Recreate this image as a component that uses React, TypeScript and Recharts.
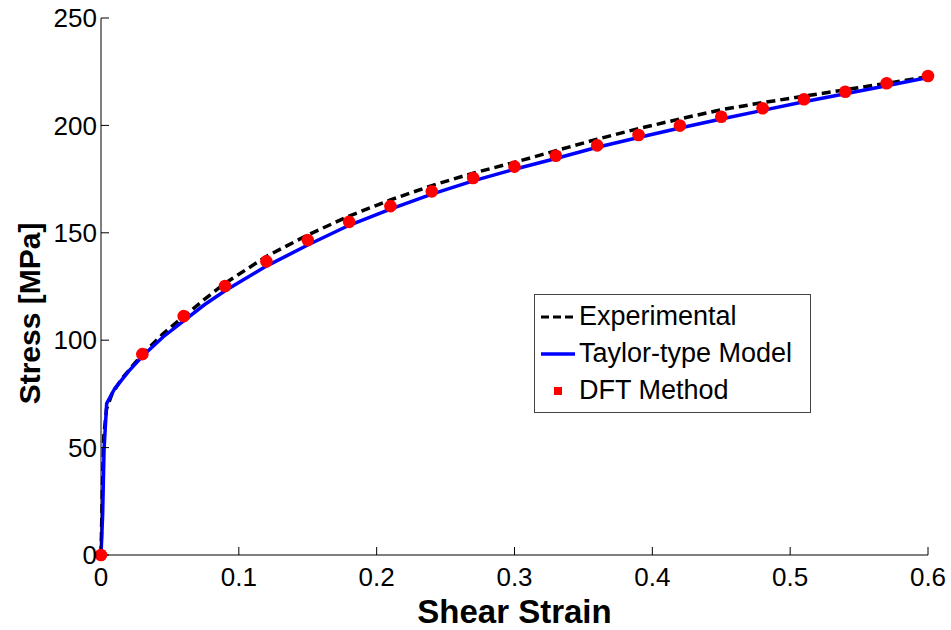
import { LineChart, Line, Scatter, XAxis, YAxis, Legend } from 'recharts';

// tick values
const xTicks = [0, 0.1, 0.2, 0.3, 0.4, 0.5, 0.6];
const yTicks = [0, 50, 100, 150, 200, 250];

// Experimental curve
const expStrain = [0, 0.001, 0.002, 0.004, 0.008, 0.015, 0.03, 0.045, 0.06, 0.075, 0.09, 0.12, 0.15, 0.18, 0.21, 0.24, 0.27, 0.3, 0.33, 0.36, 0.39, 0.42, 0.45, 0.48, 0.51, 0.54, 0.57, 0.6];
const expStress = [0, 30, 55, 68, 75, 82, 93.5, 103, 111, 119, 126.5, 139, 149, 157.8, 165.3, 172, 177.8, 182.8, 188.2, 193.6, 198.5, 203, 207.3, 210.6, 213.6, 216.6, 219.6, 222.7];

// Taylor-type model curve
const taylorStrain = [0, 0.0012, 0.0022, 0.0041, 0.01, 0.02, 0.03, 0.045, 0.06, 0.075, 0.09, 0.12, 0.15, 0.18, 0.21, 0.24, 0.27, 0.3, 0.33, 0.36, 0.39, 0.42, 0.45, 0.48, 0.51, 0.54, 0.57, 0.6];
const taylorStress = [0, 19, 49, 70.5, 77.5, 85.5, 92.5, 101.5, 109, 116.5, 123, 134.5, 144.3, 153.5, 161, 168, 174.2, 179.6, 184.6, 189.8, 194.4, 198.8, 203, 207, 211, 214.7, 218.5, 222.3];

// DFT method points
const dftStrain = [0, 0.03, 0.06, 0.09, 0.12, 0.15, 0.18, 0.21, 0.24, 0.27, 0.3, 0.33, 0.36, 0.39, 0.42, 0.45, 0.48, 0.51, 0.54, 0.57, 0.6];
const dftStress = [0, 93.5, 111.2, 125.2, 136.7, 146.6, 155.1, 162.4, 169.3, 175.5, 180.8, 185.9, 190.7, 195.5, 199.9, 204, 208, 212.2, 215.7, 219.6, 223];

const expData = expStrain.map((x, i) => ({ x, y: expStress[i] }));
const taylorData = taylorStrain.map((x, i) => ({ x, y: taylorStress[i] }));
const dftData = dftStrain.map((x, i) => ({ x, y: dftStress[i] }));

const FONT = '"Liberation Sans", Arial, Helvetica, sans-serif';

const fmtX = (v: number) => (v === 0 ? '0' : String(v));

const YLabel = (props: any) => {
  const vb = props.viewBox || {};
  const cx = 29;
  // label sits a bit below the middle of the axis, as in the original
  const cy = vb.y + vb.height / 2 + 27;
  return (
    <text
      x={cx}
      y={cy}
      transform={`rotate(-90, ${cx}, ${cy})`}
      textAnchor="middle"
      dominantBaseline="central"
      fontFamily={FONT}
      fontWeight="bold"
      fontSize={30}
      fill="#000"
    >
      Stress [MPa]
    </text>
  );
};

const XLabel = (props: any) => {
  const vb = props.viewBox || {};
  return (
    <text
      x={vb.x + vb.width / 2}
      y={vb.y + 68}
      textAnchor="middle"
      fontFamily={FONT}
      fontWeight="bold"
      fontSize={33}
      fill="#000"
    >
      Shear Strain
    </text>
  );
};

const LegendBox = () => (
  <div
    style={{
      width: 277,
      height: 119,
      border: '1px solid #444',
      background: '#fff',
      fontFamily: FONT,
      fontSize: 27,
      color: '#000',
      boxSizing: 'border-box',
      paddingTop: 3,
    }}
  >
    {[
      { name: 'Experimental', kind: 'dash' },
      { name: 'Taylor-type Model', kind: 'line' },
      { name: 'DFT Method', kind: 'dot' },
    ].map((item) => (
      <div key={item.name} style={{ display: 'flex', alignItems: 'center', height: 37 }}>
        <svg width={44} height={20} style={{ flex: 'none' }}>
          {item.kind === 'dash' && (
            <line x1={6} y1={10} x2={40} y2={10} stroke="#000" strokeWidth={3} strokeDasharray="8 4" />
          )}
          {item.kind === 'line' && <line x1={6} y1={10} x2={40} y2={10} stroke="#0000ff" strokeWidth={3.5} />}
          {item.kind === 'dot' && <rect x={19} y={6} width={8} height={8} fill="#ff0000" />}
        </svg>
        <span style={{ lineHeight: '37px' }}>{item.name}</span>
      </div>
    ))}
  </div>
);

const emptyTick = () => <g />;

export default function App() {
  return (
    <div style={{ position: 'absolute', left: 0, top: 0, width: 951, height: 630, background: '#fff' }}>
      <LineChart width={951} height={630} margin={{ top: 18, right: 23, bottom: 0, left: 0 }}>
        <XAxis
          xAxisId="bottom"
          dataKey="x"
          type="number"
          domain={[0, 0.6]}
          ticks={xTicks}
          tickFormatter={fmtX}
          height={75}
          tickSize={-8}
          tickMargin={21}
          axisLine={{ stroke: '#000', strokeWidth: 1 }}
          tickLine={{ stroke: '#000' }}
          tick={{ fill: '#000', fontSize: 26, fontFamily: FONT }}
          label={<XLabel />}
        />
        <XAxis
          xAxisId="top"
          orientation="top"
          dataKey="x"
          type="number"
          domain={[0, 0.6]}
          ticks={xTicks}
          height={0}
          tickSize={-8}
          axisLine={{ stroke: '#000', strokeWidth: 1 }}
          tickLine={{ stroke: '#000' }}
          tick={emptyTick}
        />
        <YAxis
          yAxisId="left"
          dataKey="y"
          type="number"
          domain={[0, 250]}
          ticks={yTicks}
          width={101}
          tickSize={-8}
          tickMargin={12}
          axisLine={{ stroke: '#000', strokeWidth: 1 }}
          tickLine={{ stroke: '#000' }}
          tick={{ fill: '#000', fontSize: 26, fontFamily: FONT }}
          label={<YLabel />}
        />
        <YAxis
          yAxisId="right"
          orientation="right"
          dataKey="y"
          type="number"
          domain={[0, 250]}
          ticks={yTicks}
          width={0}
          tickSize={-8}
          axisLine={{ stroke: '#000', strokeWidth: 1 }}
          tickLine={{ stroke: '#000' }}
          tick={emptyTick}
        />
        <Line
          xAxisId="bottom"
          yAxisId="left"
          data={expData}
          dataKey="y"
          name="Experimental"
          type="linear"
          stroke="#000"
          strokeWidth={3.5}
          strokeDasharray="9 5"
          dot={false}
          activeDot={false}
          isAnimationActive={false}
        />
        <Line
          xAxisId="bottom"
          yAxisId="left"
          data={taylorData}
          dataKey="y"
          name="Taylor-type Model"
          type="linear"
          stroke="#0000ff"
          strokeWidth={3.5}
          dot={false}
          activeDot={false}
          isAnimationActive={false}
        />
        <Scatter
          xAxisId="bottom"
          yAxisId="left"
          data={dftData}
          dataKey="y"
          name="DFT Method"
          fill="#ff0000"
          shape={(p: any) => <circle cx={p.cx} cy={p.cy} r={6.3} fill="#ff0000" />}
          isAnimationActive={false}
        />
        <Legend
          layout="horizontal"
          verticalAlign="middle"
          align="center"
          content={<LegendBox />}
          wrapperStyle={{ position: 'absolute', left: 534, top: 294, width: 'auto', height: 'auto' }}
        />
      </LineChart>
    </div>
  );
}
